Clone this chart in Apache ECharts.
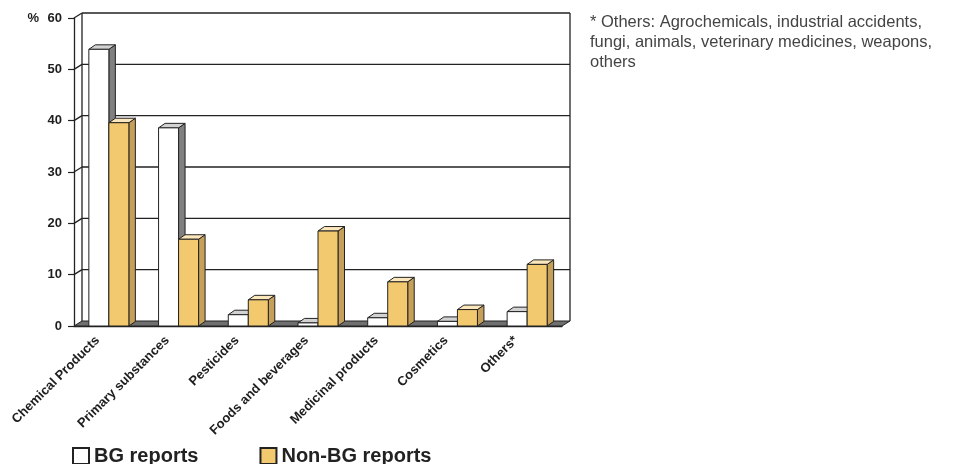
<!DOCTYPE html>
<html><head><meta charset="utf-8">
<script src="https://cdn.jsdelivr.net/npm/echarts@6/dist/echarts.min.js"></script>
<style>html,body{margin:0;padding:0;background:#fff}#c{width:954px;height:464px}</style>
</head><body><div id="c"></div>
<script>
const categories = ['Chemical Products','Primary substances','Pesticides','Foods and beverages','Medicinal products','Cosmetics','Others*'];
const bgReports = [53.9, 38.6, 2.2, 0.6, 1.6, 0.9, 2.8];
const nonBgReports = [39.6, 16.9, 5.1, 18.5, 8.6, 3.2, 12.0];
const yTicks = [0, 10, 20, 30, 40, 50, 60];
const seriesNames = ['BG reports', 'Non-BG reports'];
const noteLines = ['* Others: Agrochemicals, industrial accidents,', 'fungi, animals, veterinary medicines, weapons,', 'others'];

const FONT = '"Liberation Sans", Arial, Helvetica, sans-serif';
const WALL = [8, -5];
const DEPTH = [6.5, -4.5];
const INK = '#222222';
const WHITE = {front:'#ffffff', top:'#d2d2d2', side:'#808080'};
const GOLD = {front:'#f2c96e', top:'#fbe7bb', side:'#c6a058'};

function frameItem(params, api) {
  const v = api.value(1);
  const cs = params.coordSys;
  const y = api.coord([0, v])[1];
  const x0 = cs.x, x1 = cs.x + cs.width;
  const children = [];
  if (v === yTicks[0]) {
    const yTop = api.coord([0, yTicks[yTicks.length - 1]])[1];
    children.push({type:'polygon', shape:{points:[[x0,y],[x1,y],[x1+WALL[0],y+WALL[1]],[x0+WALL[0],y+WALL[1]]]}, style:{fill:'#6f6f6f', stroke:INK, lineWidth:1}});
    children.push({type:'line', shape:{x1:x0+WALL[0], y1:y+WALL[1], x2:x0+WALL[0], y2:yTop+WALL[1]}, style:{stroke:INK, lineWidth:1.3}});
    children.push({type:'line', shape:{x1:x1+WALL[0], y1:y+WALL[1], x2:x1+WALL[0], y2:yTop+WALL[1]}, style:{stroke:INK, lineWidth:1.3}});
  } else {
    children.push({type:'line', shape:{x1:x0+WALL[0], y1:y+WALL[1], x2:x1+WALL[0], y2:y+WALL[1]}, style:{stroke:INK, lineWidth:1.3}});
    children.push({type:'line', shape:{x1:x0, y1:y, x2:x0+WALL[0], y2:y+WALL[1]}, style:{stroke:INK, lineWidth:1.3}});
  }
  return {type:'group', children};
}

function barRenderer(colors, shift) {
  return function (params, api) {
    const i = api.value(0), v = api.value(1);
    const top = api.coord([i, v]), base = api.coord([i, 0]);
    const band = api.size([1, 0])[0];
    const w = band * 0.287;
    const x = top[0] + shift * w;
    const yt = top[1], yb = base[1];
    const dx = DEPTH[0], dy = DEPTH[1];
    return {type:'group', children:[
      {type:'polygon', shape:{points:[[x+w,yt],[x+w+dx,yt+dy],[x+w+dx,yb+dy],[x+w,yb]]}, style:{fill:colors.side, stroke:INK, lineWidth:1}},
      {type:'polygon', shape:{points:[[x,yt],[x+w,yt],[x+w+dx,yt+dy],[x+dx,yt+dy]]}, style:{fill:colors.top, stroke:INK, lineWidth:1}},
      {type:'rect', shape:{x:x, y:yt, width:w, height:yb-yt}, style:{fill:colors.front, stroke:INK, lineWidth:1}}
    ]};
  };
}

const chart = echarts.init(document.getElementById('c'), null, {renderer:'canvas'});
chart.setOption({
  animation: false,
  backgroundColor: '#ffffff',
  textStyle: {fontFamily: FONT},
  grid: {left: 74, right: 392, top: 18, bottom: 138},
  legend: {
    left: 72, top: 446, padding: 0, itemGap: 61, itemWidth: 16, itemHeight: 16, icon: 'rect',
    textStyle: {fontFamily: FONT, fontWeight: 'bold', fontSize: 20, color: '#222'},
    data: [
      {name: seriesNames[0], itemStyle: {color: WHITE.front, borderColor: '#222', borderWidth: 2}},
      {name: seriesNames[1], itemStyle: {color: GOLD.front, borderColor: '#222', borderWidth: 2}}
    ]
  },
  xAxis: {
    type: 'category', data: categories,
    axisLine: {lineStyle: {color: INK, width: 1.3}},
    axisTick: {length: 6, lineStyle: {color: INK, width: 1.2}},
    axisLabel: {interval: 0, rotate: 45, margin: 1, fontFamily: FONT, fontWeight: 'bold', fontSize: 13, color: '#1e1e1e', padding: [0, 16, 0, 0]},
    splitLine: {show: false}
  },
  yAxis: {
    type: 'value', min: 0, max: 60, interval: 10,
    name: '%', nameLocation: 'end', nameGap: 0,
    nameTextStyle: {fontFamily: FONT, fontWeight: 'bold', fontSize: 13, color: '#1e1e1e', align: 'right', verticalAlign: 'middle', padding: [0, 35, 0, 0]},
    axisLine: {show: true, lineStyle: {color: INK, width: 1.3}},
    axisTick: {show: true, length: 6, lineStyle: {color: INK, width: 1.2}},
    axisLabel: {margin: 12, fontFamily: FONT, fontWeight: 'bold', fontSize: 13, color: '#1e1e1e'},
    splitLine: {show: false}
  },
  graphic: [{
    type: 'text', left: 590, top: 12,
    style: {text: noteLines.join('\n'), font: '16.5px ' + FONT, lineHeight: 20, fill: '#444'}
  }],
  series: [
    {type: 'custom', name: 'frame', silent: true, renderItem: frameItem, encode: {x: 0, y: 1}, data: yTicks.map(v => [0, v]), z: 1},
    {type: 'custom', name: seriesNames[0], renderItem: barRenderer(WHITE, -1), encode: {x: 0, y: 1}, itemStyle: {color: WHITE.front},
      data: bgReports.map((v, i) => [i, v]), z: 2},
    {type: 'custom', name: seriesNames[1], renderItem: barRenderer(GOLD, 0), encode: {x: 0, y: 1}, itemStyle: {color: GOLD.front},
      data: nonBgReports.map((v, i) => [i, v]), z: 2}
  ]
});
</script></body></html>
